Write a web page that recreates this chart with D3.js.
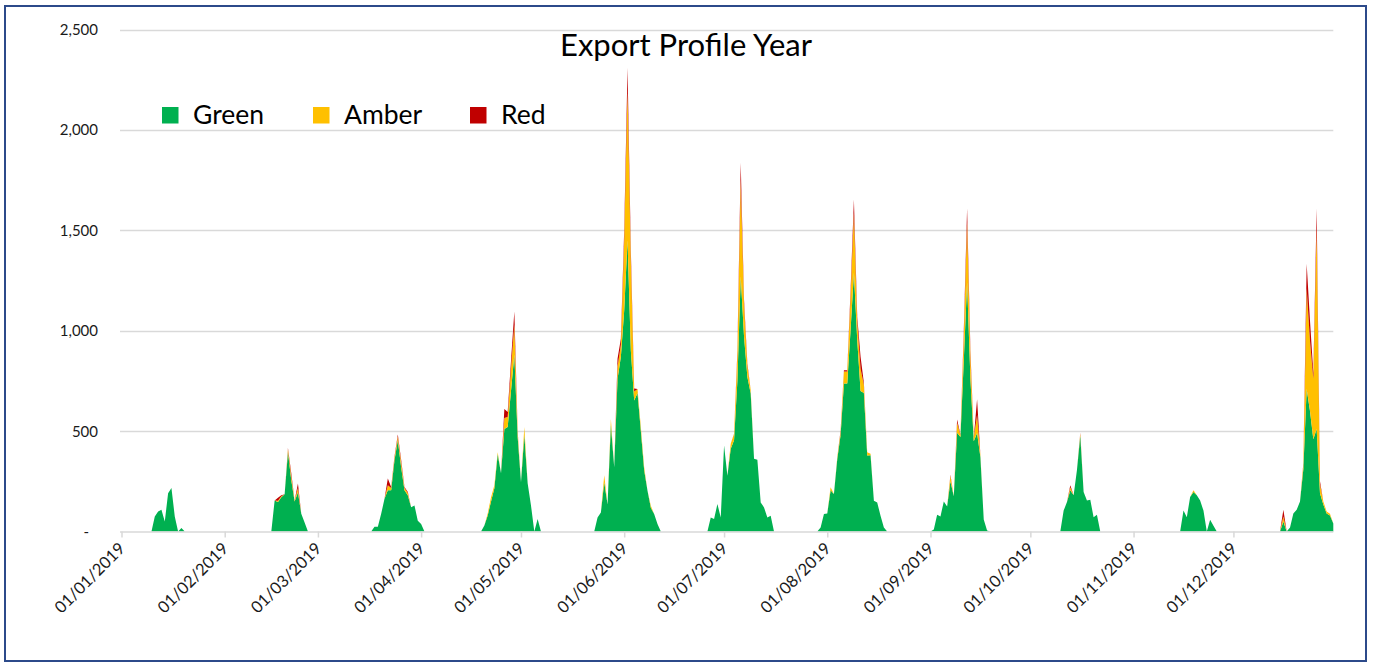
<!DOCTYPE html>
<html><head><meta charset="utf-8">
<script src="https://cdn.jsdelivr.net/npm/d3@7"></script>
<style>
body{margin:0;background:#fff}
svg{display:block}
text{font-family:Lato,"Open Sans",sans-serif}
</style>
</head><body>
<svg id="chart" width="1383" height="663"></svg>
<script>
// ---------- data ----------
const title = "Export Profile Year";
const seriesNames = ["Green", "Amber", "Red"];
const seriesColors = ["#00B050", "#FFC000", "#C00000"];
const yTickValues = [0, 500, 1000, 1500, 2000, 2500];
const yTickLabels = ["-", "500", "1,000", "1,500", "2,000", "2,500"];
const xTickFormat = "%d/%m/%Y";

// each run = consecutive days starting at runStarts[i]; days outside runs are 0
const runStarts = ["2019-01-11", "2019-02-16", "2019-03-18", "2019-04-20", "2019-05-24",
  "2019-06-27", "2019-07-30", "2019-09-02", "2019-10-11", "2019-11-16", "2019-12-16"];

const greenRuns = [
  [75, 100, 108, 50, 190, 217, 75, 0, 18],
  [155, 147, 170, 185, 395, 255, 150, 195, 88, 45],
  [24, 24, 88, 163, 205, 205, 355, 455, 320, 205, 180, 121, 130, 54, 37],
  [30, 80, 150, 215, 385, 290, 510, 520, 700, 880, 470, 245, 480, 240, 130, 0, 62],
  [70, 95, 245, 135, 530, 320, 760, 870, 1100, 1450, 900, 653, 690, 500, 305, 203, 118, 87, 37],
  [70, 62, 137, 70, 428, 278, 412, 455, 750, 1270, 970, 770, 687, 362, 357, 145, 120, 70, 78],
  [20, 87, 90, 205, 187, 360, 480, 737, 737, 1003, 1287, 953, 700, 690, 378, 380, 153, 145, 78, 20],
  [10, 83, 75, 150, 125, 250, 175, 492, 470, 850, 1240, 760, 450, 490, 370, 60, 5],
  [104, 147, 205, 180, 306, 477, 197, 155, 158, 71, 84],
  [104, 71, 172, 197, 180, 155, 104, 0, 59, 29],
  [50, 0, 20, 90, 108, 150, 310, 710, 600, 460, 510, 190, 135, 90, 80, 40]
];
const amberRuns = [
  [0, 0, 0, 0, 0, 0, 0, 0, 0],
  [0, 6, 5, 0, 15, 20, 5, 22, 0, 0],
  [0, 0, 0, 0, 25, 12, 12, 18, 25, 12, 12, 0, 0, 0, 0],
  [0, 10, 20, 15, 10, 0, 55, 50, 110, 150, 25, 0, 40, 0, 0, 0, 0],
  [0, 0, 35, 0, 30, 0, 60, 60, 350, 750, 450, 44, 20, 20, 15, 0, 10, 0, 0],
  [0, 0, 0, 0, 0, 0, 25, 30, 130, 480, 160, 55, 16, 0, 0, 0, 0, 0, 0],
  [0, 0, 0, 15, 0, 10, 15, 60, 60, 170, 300, 90, 110, 40, 17, 7, 0, 0, 0, 0],
  [0, 0, 0, 0, 0, 28, 0, 50, 10, 120, 300, 110, 17, 90, 10, 0, 0],
  [0, 0, 15, 0, 0, 10, 0, 0, 0, 0, 0],
  [0, 0, 0, 8, 0, 0, 0, 0, 0, 0],
  [25, 0, 0, 0, 0, 0, 25, 500, 350, 300, 1000, 45, 15, 10, 8, 0]
];
const redRuns = [
  [0, 0, 0, 0, 0, 0, 0, 0, 0],
  [0, 15, 5, 0, 6, 15, 0, 22, 0, 0],
  [0, 0, 0, 0, 34, 5, 7, 10, 12, 5, 5, 0, 0, 0, 0],
  [0, 0, 0, 0, 0, 0, 45, 25, 40, 65, 5, 0, 0, 0, 0, 0, 0],
  [0, 0, 0, 0, 0, 0, 40, 30, 50, 110, 50, 15, 0, 0, 0, 0, 0, 0, 0],
  [0, 0, 0, 0, 0, 0, 0, 2, 20, 87, 23, 12, 0, 0, 0, 0, 0, 0, 0],
  [0, 0, 0, 0, 0, 0, 8, 6, 6, 30, 66, 27, 60, 10, 0, 0, 0, 0, 0, 0],
  [0, 0, 0, 0, 0, 5, 0, 16, 3, 30, 68, 30, 0, 78, 0, 0, 0],
  [0, 0, 10, 0, 0, 5, 0, 0, 0, 0, 0],
  [0, 0, 0, 0, 0, 0, 0, 0, 0, 0],
  [33, 0, 0, 0, 0, 0, 5, 123, 100, 30, 98, 15, 0, 0, 0, 0]
];

// ---------- build daily table ----------
const parse = d3.timeParse("%Y-%m-%d");
const yearStart = parse("2019-01-01");
const yearEnd = parse("2019-12-31");
const days = d3.timeDay.range(yearStart, d3.timeDay.offset(yearEnd, 1));
const rows = days.map(d => ({ date: d, Green: 0, Amber: 0, Red: 0 }));
runStarts.forEach((s, i) => {
  const off = d3.timeDay.count(yearStart, parse(s));
  greenRuns[i].forEach((v, j) => {
    const r = rows[off + j];
    if (!r) return;
    r.Green = v;
    r.Amber = amberRuns[i][j];
    r.Red = redRuns[i][j];
  });
});

// ---------- layout ----------
const svg = d3.select("#chart");
const W = 1383, H = 663;
const plot = { left: 121.5, right: 1333.3, top: 29.5, bottom: 531.5 };

const x = d3.scaleTime().domain([yearStart, yearEnd]).range([plot.left, plot.right]);
const y = d3.scaleLinear().domain([0, 2500]).range([plot.bottom, plot.top]);

svg.append("rect").attr("x", 0).attr("y", 0).attr("width", W).attr("height", H).attr("fill", "#fff");

// border
svg.append("rect")
  .attr("x", 5).attr("y", 6).attr("width", 1361).attr("height", 655)
  .attr("fill", "none").attr("stroke", "#2C4A8A").attr("stroke-width", 2);

// gridlines
svg.append("g").selectAll("line")
  .data(yTickValues.filter(v => v > 0))
  .join("line")
  .attr("x1", plot.left - 1.5).attr("x2", plot.right)
  .attr("y1", d => Math.round(y(d)) + 0.5).attr("y2", d => Math.round(y(d)) + 0.5)
  .attr("stroke", "#D9D9D9").attr("stroke-width", 1.3);

// y labels
svg.append("g").selectAll("text")
  .data(yTickValues)
  .join("text")
  .attr("x", d => d === 0 ? 89 : 98)
  .attr("y", d => y(d))
  .attr("dy", "0.36em")
  .attr("text-anchor", "end")
  .attr("font-size", 15)
  .attr("fill", "#1a1a1a")
  .text((d, i) => yTickLabels[i]);

// stacked areas
const stack = d3.stack().keys(seriesNames);
const layers = stack(rows);
const area = d3.area()
  .x(d => x(d.data.date))
  .y0(d => y(d[0]))
  .y1(d => y(d[1]))
  .curve(d3.curveLinear);

svg.append("g").selectAll("path")
  .data(layers)
  .join("path")
  .attr("d", area)
  .attr("fill", (d, i) => seriesColors[i]);

// x axis
const xAxis = d3.axisBottom(x)
  .tickValues(d3.timeMonth.range(yearStart, d3.timeDay.offset(yearEnd, 1)))
  .tickFormat(d3.timeFormat(xTickFormat))
  .tickSize(6)
  .tickPadding(0);

const gx = svg.append("g").attr("transform", `translate(0,${plot.bottom})`).call(xAxis);
gx.select(".domain").attr("stroke", "#D9D9D9").attr("stroke-width", 1.5)
  .attr("d", `M${plot.left - 1.5},0.5H${plot.right}`);
gx.selectAll(".tick line").attr("stroke", "#D9D9D9").attr("stroke-width", 1.5);
gx.selectAll(".tick text")
  .attr("font-family", "Lato, 'Open Sans', sans-serif")
  .attr("font-size", 16.5)
  .attr("fill", "#1a1a1a")
  .attr("text-anchor", "end")
  .attr("dy", "0.35em")
  .attr("transform", "translate(0,14) rotate(-45)")
  .attr("y", 0).attr("x", 0);

// title
svg.append("text")
  .attr("x", 686).attr("y", 56)
  .attr("text-anchor", "middle")
  .attr("font-size", 31)
  .attr("fill", "#000")
  .text(title);

// legend
const legendX = [162, 313, 470];
const lg = svg.append("g").selectAll("g")
  .data(seriesNames)
  .join("g")
  .attr("transform", (d, i) => `translate(${legendX[i]},107)`);
lg.append("rect").attr("width", 16.5).attr("height", 16.5)
  .attr("fill", (d, i) => seriesColors[i]);
lg.append("text").attr("x", 31).attr("y", 17)
  .attr("font-size", 26.5).attr("fill", "#000")
  .text(d => d);
</script>
</body></html>
